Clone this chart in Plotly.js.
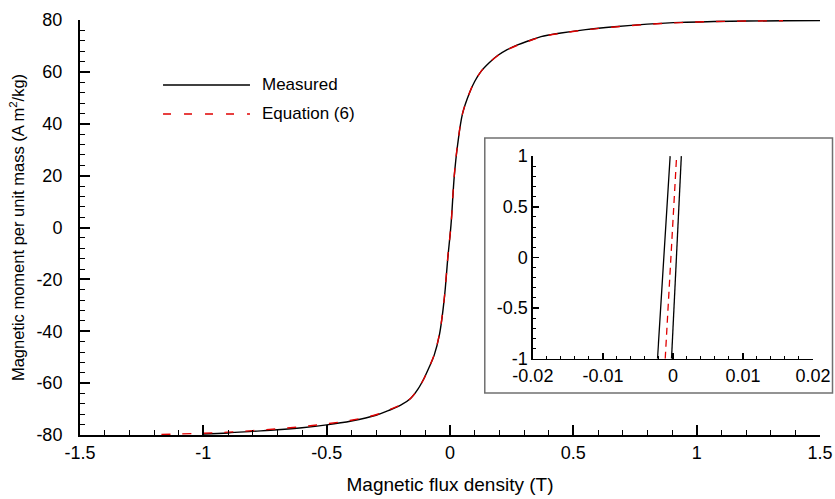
<!DOCTYPE html>
<html><head><meta charset="utf-8">
<script src="https://cdn.plot.ly/plotly-3.0.1.min.js"></script>
<style>html,body{margin:0;padding:0;background:#fff}</style>
</head><body><div id="chart" style="width:835px;height:499px"></div>
<script>
// Measured magnetisation curve (main plot)
const measuredX = [-1.0,-0.9,-0.8,-0.7,-0.6,-0.5,-0.4,-0.3,-0.25,-0.2,-0.16,-0.13,-0.105,-0.085,-0.064,-0.043,-0.023,-0.009,0.004,0.0175,0.031,0.051,0.078,0.1,0.126,0.16,0.193,0.23,0.274,0.32,0.369,0.45,0.55,0.666,0.8,0.937,1.07,1.207,1.35,1.5];
const measuredY = [-79.6,-79.2,-78.6,-78.0,-77.2,-76.1,-74.6,-72.4,-70.6,-68.5,-65.9,-62.3,-58.1,-54.0,-49.2,-41.4,-27.3,-11.9,1.0,20.0,32.0,44.0,51.7,56.3,60.2,63.6,66.3,68.5,70.4,72.0,73.6,75.0,76.3,77.4,78.4,79.1,79.4,79.6,79.7,79.8];
// Equation (6) curve (main plot)
const equationX = [-1.17,-1.1,-1.0,-0.9,-0.8,-0.7,-0.6,-0.5,-0.4,-0.3,-0.25,-0.2,-0.16,-0.13,-0.105,-0.085,-0.064,-0.043,-0.023,-0.009,0.004,0.0175,0.031,0.051,0.078,0.1,0.126,0.16,0.193,0.23,0.274,0.32,0.369,0.45,0.55,0.666,0.8,0.937,1.07,1.207,1.35];
const equationY = [-79.8,-79.6,-79.3,-78.9,-78.3,-77.6,-76.8,-75.7,-74.3,-72.2,-70.4,-68.4,-65.9,-62.3,-58.2,-54.0,-49.0,-41.2,-27.0,-11.5,0.8,20.3,32.2,44.0,51.7,56.3,60.2,63.6,66.2,68.4,70.3,71.9,73.5,74.9,76.2,77.3,78.3,79.0,79.4,79.6,79.7];
// Inset (zoom near origin): two measured branches and the equation
const insetBranchAX = [-0.0022,-0.0004];
const insetBranchAY = [-1,1];
const insetBranchBX = [-0.0002,0.0012];
const insetBranchBY = [-1,1];
const insetEquationX = [-0.0011,0.0005];
const insetEquationY = [-1,0.97];
// Tick labels
const xTickVals = [-1.5,-1,-0.5,0,0.5,1,1.5];
const xTickText = ['-1.5','-1','-0.5','0','0.5','1','1.5'];
const yTickVals = [-80,-60,-40,-20,0,20,40,60,80];
const yTickText = ['-80','-60','-40','-20','0','20','40','60','80'];
const insetXTickVals = [-0.02,-0.01,0,0.01,0.02];
const insetXTickText = ['-0.02','-0.01','0','0.01','0.02'];
const insetYTickVals = [-1,-0.5,0,0.5,1];
const insetYTickText = ['-1','-0.5','0','0.5','1'];
const seriesNames = ['Measured','Equation (6)'];

const FONT = '"Liberation Sans", Arial, sans-serif';

const traces = [
  {x:measuredX, y:measuredY, xaxis:'x', yaxis:'y', mode:'lines', name:seriesNames[0], line:{color:'#000', width:1.4, shape:'spline', smoothing:1}},
  {x:equationX, y:equationY, xaxis:'x', yaxis:'y', mode:'lines', name:seriesNames[1], line:{color:'#e00000', width:1.4, dash:'9px,12px', shape:'spline', smoothing:1}},
  {x:insetBranchAX, y:insetBranchAY, xaxis:'x2', yaxis:'y2', mode:'lines', showlegend:false, line:{color:'#000', width:1.3}},
  {x:insetBranchBX, y:insetBranchBY, xaxis:'x2', yaxis:'y2', mode:'lines', showlegend:false, line:{color:'#000', width:1.3}},
  {x:insetEquationX, y:insetEquationY, xaxis:'x2', yaxis:'y2', mode:'lines', showlegend:false, line:{color:'#e00000', width:1.3, dash:'7px,5px'}}
];

function axisBase(){
  return {ticks:'inside', tickcolor:'#000', showline:true, linecolor:'#000', showgrid:false, zeroline:false, tickmode:'array', mirror:false, tickfont:{family:FONT, size:18, color:'#000'}};
}

const layout = {
  width:835, height:499,
  margin:{l:80, r:15, t:20, b:64},
  paper_bgcolor:'#fff', plot_bgcolor:'rgba(0,0,0,0)',
  font:{family:FONT, size:17, color:'#000'},
  showlegend:false,
  xaxis:Object.assign(axisBase(), {
    domain:[0,1], range:[-1.5,1.5], tickvals:xTickVals, ticktext:xTickText,
    ticklen:10, tickwidth:2, linewidth:2, anchor:'y',
    minor:{tick0:-1.5, dtick:0.1, ticks:'inside', ticklen:5, tickwidth:1, tickcolor:'#000', showgrid:false},
    title:{text:'Magnetic flux density (T)', font:{family:FONT, size:19}, standoff:16}
  }),
  yaxis:Object.assign(axisBase(), {
    domain:[0,1], range:[-80,80], tickvals:yTickVals, ticktext:yTickText,
    ticklen:10, tickwidth:2, linewidth:2, anchor:'x', ticklabelstandoff:12,
    minor:{tick0:-80, dtick:4, ticks:'inside', ticklen:5, tickwidth:1, tickcolor:'#000', showgrid:false},
    title:{text:'Magnetic moment per unit mass (A m<sup>2</sup>/kg)', font:{family:FONT, size:16.5}, standoff:8}
  }),
  xaxis2:Object.assign(axisBase(), {
    domain:[0.612,0.9905], range:[-0.02,0.02], tickvals:insetXTickVals, ticktext:insetXTickText,
    ticklen:6, tickwidth:1.5, linewidth:1.5, anchor:'y2',
    minor:{tick0:-0.02, dtick:0.002, ticks:'inside', ticklen:3, tickwidth:1, tickcolor:'#000', showgrid:false}
  }),
  yaxis2:Object.assign(axisBase(), {
    domain:[0.1839,0.672], range:[-1,1], tickvals:insetYTickVals, ticktext:insetYTickText,
    ticklen:6, tickwidth:1.5, linewidth:1.5, anchor:'x2',
    minor:{tick0:-1, dtick:0.1, ticks:'inside', ticklen:3, tickwidth:1, tickcolor:'#000', showgrid:false}
  }),
  shapes:[
    {type:'rect', xref:'paper', yref:'paper', x0:0.547, x1:1.0169, y0:0.1012, y1:0.7157, line:{color:'#707070', width:1.5}, fillcolor:'#fff', layer:'below'},
    {type:'line', xref:'paper', yref:'paper', x0:0.1122, x1:0.2297, y0:0.8434, y1:0.8434, line:{color:'#000', width:1.3}},
    {type:'line', xref:'paper', yref:'paper', x0:0.1122, x1:0.2297, y0:0.7735, y1:0.7735, line:{color:'#e00000', width:1.3, dash:'8px,13px'}}
  ],
  annotations:[
    {xref:'paper', yref:'paper', x:0.2432, y:0.8434, xanchor:'left', yanchor:'middle', text:seriesNames[0], showarrow:false, font:{family:FONT, size:17, color:'#000'}},
    {xref:'paper', yref:'paper', x:0.2432, y:0.7735, xanchor:'left', yanchor:'middle', text:seriesNames[1], showarrow:false, font:{family:FONT, size:17, color:'#000'}}
  ]
};

Plotly.newPlot('chart', traces, layout, {displayModeBar:false, staticPlot:true});
</script>
</body></html>
